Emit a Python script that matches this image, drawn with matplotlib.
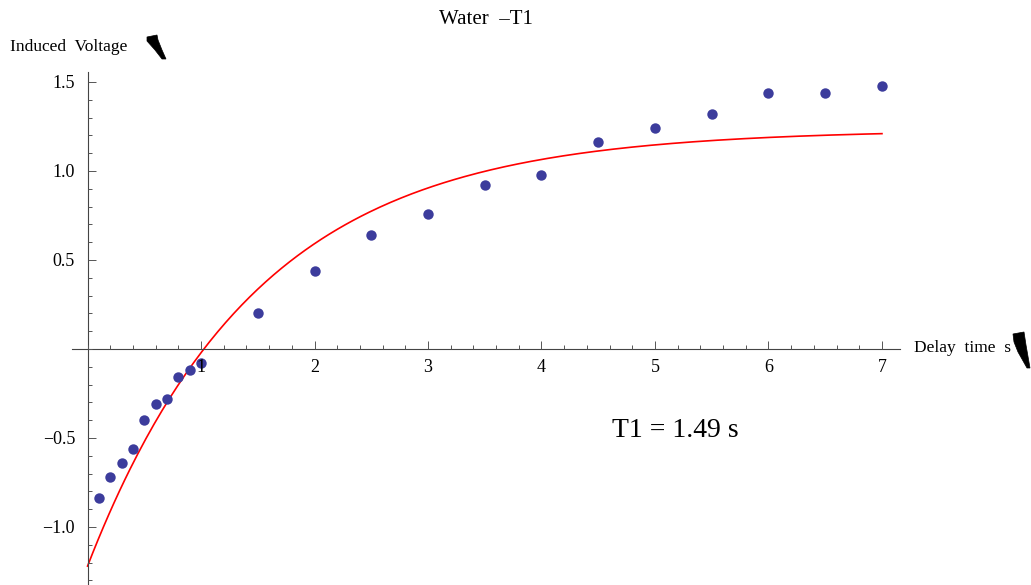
import numpy as np
import matplotlib
matplotlib.use("Agg")
import matplotlib.pyplot as plt
from matplotlib.patches import Polygon
from matplotlib.ticker import MultipleLocator, FixedLocator

# measured points (delay time in s, induced voltage)
delay_time = [0.1, 0.2, 0.3, 0.4, 0.5, 0.6, 0.7, 0.8, 0.9, 1.0,
              1.5, 2.0, 2.5, 3.0, 3.5, 4.0, 4.5, 5.0, 5.5, 6.0, 6.5, 7.0]
induced_voltage = [-0.84, -0.72, -0.64, -0.56, -0.40, -0.31, -0.28, -0.16, -0.12, -0.08,
                   0.20, 0.44, 0.64, 0.76, 0.92, 0.98, 1.16, 1.24, 1.32, 1.44, 1.44, 1.48]

# fitted recovery curve  V(t) = A (1 - B exp(-t/T1))
T1 = 1.49
A_fit = 1.232
B_fit = 1.99

x_ticks = [1, 2, 3, 4, 5, 6, 7]
y_ticks = [-1.0, -0.5, 0.5, 1.0, 1.5]
y_tick_labels = ["\u22121.0", "\u22120.5", "0.5", "1.0", "1.5"]

plt.rcParams["font.family"] = ["Liberation Serif", "DejaVu Serif"]

W, H = 1031, 585
fig = plt.figure(figsize=(W / 100, H / 100), dpi=100)
ax = fig.add_axes([72 / W, 0, (900 - 72) / W, (585 - 72) / H])
ax.set_axisbelow(False)

t = np.linspace(0, 7, 300)
ax.plot(t, A_fit * (1 - B_fit * np.exp(-t / T1)), color="#ff0000", lw=1.2, zorder=1.5)
ax.plot(delay_time, induced_voltage, "o", color="#3c3c9c", ms=7.5, mec="none", zorder=2)

ax.set_xlim(-0.137, 7.159)
ax.set_ylim(-1.326, 1.556)

for s in ["top", "right"]:
    ax.spines[s].set_visible(False)
ax.spines["left"].set_position(("data", 0))
ax.spines["bottom"].set_position(("data", 0))
for s in ["left", "bottom"]:
    ax.spines[s].set_color("#444444")
    ax.spines[s].set_linewidth(0.8)

ax.xaxis.set_major_locator(FixedLocator(x_ticks))
ax.xaxis.set_minor_locator(MultipleLocator(0.2))
ax.yaxis.set_major_locator(FixedLocator(y_ticks))
ax.yaxis.set_minor_locator(MultipleLocator(0.1))
ax.set_yticklabels(y_tick_labels)

ax.tick_params(which="both", direction="in", color="#555555", width=0.7, labelsize=13)
ax.tick_params(which="major", length=6)
ax.tick_params(which="minor", length=3)
ax.tick_params(axis="x", pad=7)
ax.tick_params(axis="y", pad=9)

fig.text(486 / W, 1 - 20 / H, "Water  \u2013T1", ha="center", va="center", fontsize=15)
fig.text(10 / W, 1 - 47 / H, "Induced  Voltage", ha="left", va="center", fontsize=12.5)
fig.text(914 / W, 1 - 348 / H, "Delay  time  s", ha="left", va="center", fontsize=12.5)
ax.text(5.18, -0.46, "T1 = 1.49 s", ha="center", va="center", fontsize=20)

# broken bracket glyphs after the axis labels (pixel coords, top-left origin)
glyphs = [
    [(147, 37), (157, 35), (158, 40), (162, 50), (166, 59), (162, 59), (155, 50), (147, 41)],
    [(1013, 334), (1024, 332), (1026, 345), (1030, 368), (1027, 368), (1018, 352), (1014, 342)],
]
for g in glyphs:
    fig.patches.append(Polygon([(x, H - y) for x, y in g], closed=True, transform=None,
                               facecolor="black", edgecolor="black", lw=0.5))

fig.savefig("out.png", dpi=100)
